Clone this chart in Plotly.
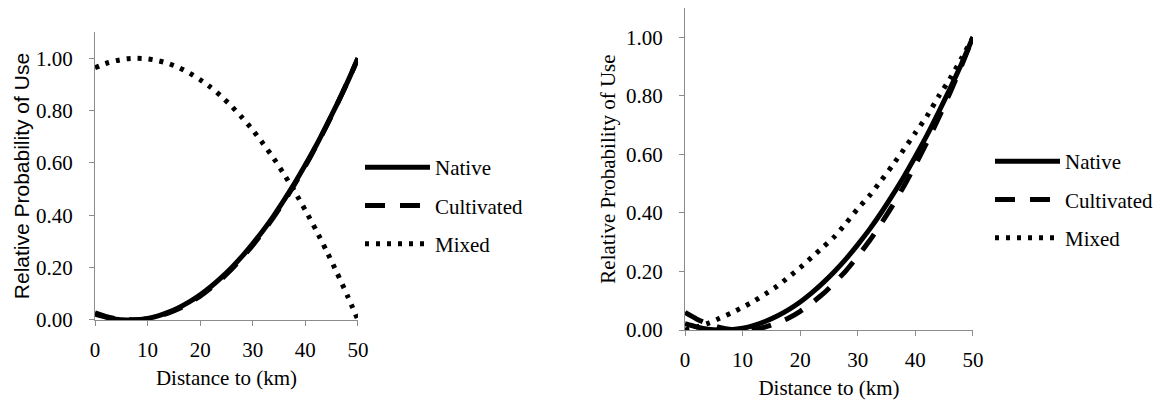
import plotly.graph_objects as go

# Distance (km)
distance = [0, 2, 4, 6, 8, 10, 12, 14, 16, 18, 20, 22, 24, 26, 28, 30, 32, 34, 36, 38, 40, 42, 44, 46, 48, 50]

# Left panel
left_native = [0.022, 0.011, 0.003, 0.000, 0.001, 0.006, 0.016, 0.030, 0.048, 0.070, 0.096, 0.127, 0.162,
               0.201, 0.244, 0.292, 0.343, 0.399, 0.460, 0.524, 0.593, 0.665, 0.743, 0.824, 0.909, 1.000]
left_cultivated = [0.027, 0.014, 0.005, 0.001, 0.001, 0.005, 0.014, 0.027, 0.044, 0.066, 0.091, 0.122, 0.156,
                   0.195, 0.239, 0.286, 0.338, 0.394, 0.455, 0.520, 0.589, 0.663, 0.741, 0.823, 0.909, 1.000]
left_mixed = [0.964, 0.980, 0.991, 0.998, 1.000, 0.998, 0.991, 0.980, 0.964, 0.943, 0.918, 0.889, 0.855,
              0.816, 0.773, 0.726, 0.673, 0.617, 0.555, 0.490, 0.419, 0.345, 0.265, 0.181, 0.093, 0.000]

# Right panel
right_native = [0.022, 0.011, 0.003, 0.000, 0.001, 0.006, 0.016, 0.030, 0.048, 0.070, 0.096, 0.127, 0.162,
                0.201, 0.244, 0.292, 0.343, 0.399, 0.460, 0.524, 0.593, 0.665, 0.743, 0.824, 0.909, 1.000]
right_cultivated = [0.060, 0.038, 0.021, 0.009, 0.002, 0.000, 0.003, 0.011, 0.024, 0.041, 0.064, 0.092, 0.124,
                    0.162, 0.204, 0.252, 0.304, 0.362, 0.424, 0.491, 0.564, 0.641, 0.723, 0.810, 0.902, 1.000]
right_mixed = [0.000, 0.010, 0.023, 0.040, 0.058, 0.078, 0.099, 0.124, 0.150, 0.181, 0.213, 0.249, 0.284,
               0.320, 0.366, 0.415, 0.458, 0.509, 0.562, 0.617, 0.674, 0.730, 0.797, 0.858, 0.928, 1.000]

series_names = ["Native", "Cultivated", "Mixed"]
y_ticks = [0, 0.2, 0.4, 0.6, 0.8, 1.0]
x_ticks = [0, 10, 20, 30, 40, 50]

SERIF = "Liberation Serif, Times New Roman, serif"
SANS = "Liberation Sans, Arial, sans-serif"
dashes = ["solid", "20px,15px", "4px,7px"]

fig = go.Figure()

panels = [
    ([left_native, left_cultivated, left_mixed], "x", "y", "legend"),
    ([right_native, right_cultivated, right_mixed], "x2", "y2", "legend2"),
]
for series, xa, ya, lg in panels:
    for name, vals, dash in zip(series_names, series, dashes):
        fig.add_trace(go.Scatter(
            x=distance, y=vals, name=name, mode="lines",
            line=dict(color="black", width=5, dash=dash, shape="spline", smoothing=0.6),
            xaxis=xa, yaxis=ya, legend=lg, legendgroup=lg + name,
        ))

axis_common = dict(
    showline=True, linecolor="#8c8c8c", linewidth=1.3, showgrid=False, zeroline=False,
    ticks="outside", ticklen=5, tickcolor="#8c8c8c", tickwidth=1.3, automargin=False,
    tickfont=dict(family=SERIF, size=21, color="black"),
)

fig.update_layout(
    width=1169, height=402,
    margin=dict(l=0, r=0, t=0, b=0, autoexpand=False),
    paper_bgcolor="white", plot_bgcolor="white",
    showlegend=True,
    xaxis=dict(domain=[0.0813, 0.3062], anchor="y", range=[0, 50], tickvals=x_ticks,
               ticklabelstandoff=6,
               title=dict(text="Distance to (km)", font=dict(family=SERIF, size=21, color="black"), standoff=8),
               **axis_common),
    yaxis=dict(domain=[0.204, 0.920], anchor="x", range=[0, 1.1], tickvals=y_ticks, tickformat=".2f",
               ticklabelstandoff=12,
               title=dict(text="Relative Probability of Use", font=dict(family=SANS, size=21, color="black"), standoff=0),
               **axis_common),
    xaxis2=dict(domain=[0.5860, 0.8323], anchor="y2", range=[0, 50], tickvals=x_ticks,
                ticklabelstandoff=6,
                title=dict(text="Distance to (km)", font=dict(family=SERIF, size=21, color="black"), standoff=8),
                **axis_common),
    yaxis2=dict(domain=[0.179, 0.980], anchor="x2", range=[0, 1.1], tickvals=y_ticks, tickformat=".2f",
                ticklabelstandoff=12,
                title=dict(text="Relative Probability of Use", font=dict(family=SERIF, size=21, color="black"), standoff=4),
                **axis_common),
    legend=dict(x=360 / 1169, xanchor="left", y=1 - 147 / 402, yanchor="top",
                font=dict(family=SERIF, size=21, color="black"), itemwidth=65,
                tracegroupgap=8, bgcolor="rgba(0,0,0,0)"),
    legend2=dict(x=990 / 1169, xanchor="left", y=1 - 141 / 402, yanchor="top",
                 font=dict(family=SERIF, size=21, color="black"), itemwidth=65,
                 tracegroupgap=8, bgcolor="rgba(0,0,0,0)"),
)

fig.write_html("out.html", config={"displayModeBar": False},
               post_script="document.body.style.margin='0';")
